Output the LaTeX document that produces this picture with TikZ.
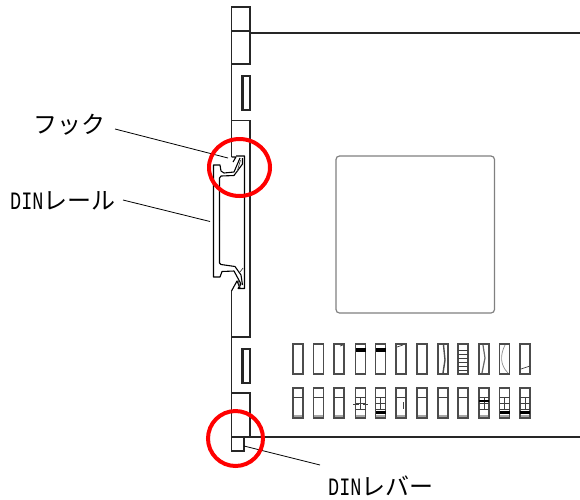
\documentclass[tikz,border=0pt]{standalone}
\usepackage{fontspec}
\newfontfamily\jpfont{Noto Sans CJK JP}
\newfontfamily\latfont[FakeStretch=0.74]{Liberation Mono}
\newcommand{\lbl}[1]{{\latfont\fontsize{25}{26}\selectfont #1}}
\newcommand{\jp}[1]{{\jpfont\fontsize{24}{26}\selectfont #1}}
\tikzset{
  part/.style={draw=black!85,line width=1.1pt,line join=miter},
  railline/.style={draw=black,line width=1.1pt,line join=round},
  vent/.style={draw=black!70,line width=1.3pt},
  thin detail/.style={draw=black!75,line width=.7pt},
  leader/.style={draw=black,line width=.8pt},
  mark ring/.style={draw=red,line width=4pt},
  lab/.style={inner sep=0pt,anchor=base west,text=black}
}
\begin{document}
\begin{tikzpicture}[x=1pt,y=-1pt]
\useasboundingbox (0,0) rectangle (580,499);
% module body
\draw[part] (231.5,64) -- (250,64) -- (250,7) -- (231.5,7) -- (231.5,157);
\draw[part] (231.5,31) -- (250,31);
\draw[part] (250,33) -- (580,33);
\draw[part] (231.5,120.5) -- (250,120.5) -- (250,337) -- (231.5,337);
\draw[part] (231.5,291) -- (231.5,451) -- (244,451) -- (244,437);
\draw[part] (231.5,393) -- (250,393) -- (250,437);
\draw[part] (231.5,437) -- (580,437);
% side slots
\draw[part] (242,76) rectangle (250,110);
\draw[part,line width=2pt] (242.5,76) -- (242.5,110);
\draw[part] (242,349) rectangle (250,383);
\draw[part,line width=2pt] (242.5,349) -- (242.5,383);
% hooks
\draw[railline] (231.5,157) -- (236,157) -- (233,162);
\draw[railline] (231.5,291) -- (237,281) -- (240,288);
% rail
\draw[railline] (236,156) -- (244.5,156) -- (244.5,288.5) -- (238,288.5) -- (241,284) -- (234,271) -- (222,271.5) -- (220,277) -- (213.5,277) -- (213.5,165) -- (220,165) -- (221,171) -- (224,173) -- (234,172) -- (240,158);
\draw[railline] (219.5,220) -- (219.5,178) -- (221,176) -- (234,175.5) -- (242.5,164) -- (242.5,158);
\draw[railline] (219.5,220) -- (219.5,263) -- (221,264.5) -- (235,266.5) -- (241,275) -- (242.5,285);
\draw[thin detail] (240.5,160) -- (237,172);
\draw[thin detail] (240,272) -- (243,268);
\draw[thin detail] (238,280) -- (240,287);
% panel window
\draw[draw=black!50,line width=1.2pt,rounded corners=3.5pt] (336,156) rectangle (494.5,313);
% vents
\foreach \x in {293,313.5,334,355.5,375.5,396,417,438,458,479,499.5,520}{
  \draw[vent] (\x,344) rectangle ++(10,30);
  \draw[vent] (\x,388) rectangle ++(10,30);
  \draw[thin detail] (\x,397) -- ++(10,0);
  \fill[black!35] (\x+.7,415) rectangle ++(8.6,2.4);
}
% top row details
\fill[black] (356,348) rectangle (365.5,352);
\fill[black] (376,348) rectangle (385.5,352);
\draw[thin detail] (397,347) -- (403,345);
\draw[thin detail] (340,346) -- (343,345);
\draw[draw=black!70,line width=1.4pt] (443.5,345) -- (445,360) -- (443,373);
\foreach \y in {350,354,358,362,366,370} \draw[thin detail] (458,\y) -- (468,\y);
\draw[draw=black!60,line width=1.2pt] (483,345) -- (485,358) -- (482,373);
\draw[draw=black!45,line width=.7pt] (505,345) .. controls (500,355) and (500,365) .. (508,373);
\draw[thin detail] (521,369) -- (530,366);
% bottom row details
\foreach \x in {355.5,375.5,479,499.5,520}{
  \draw[thin detail] (\x,403) -- ++(10,0);
  \draw[thin detail] (\x,409) -- ++(10,0);
  \draw[thin detail] (\x+5,397) -- ++(0,12);
}
\draw[thin detail] (353,404) -- (359,404);
\draw[thin detail] (363,404) -- (368,404);
\draw[thin detail] (403,402) -- (403,409);
\fill[black] (375.5,411) rectangle (385.5,414);
\fill[black] (499.5,411) rectangle (509.5,414);
\fill[black] (520,411) rectangle (530,414);
\fill[black] (479,400) rectangle (489,402);
% labels
\node[lab] (hook) at (33,133) {\jp{フック}};
\node[lab] (rail) at (10,209) {\lbl{DIN}\jp{レール}};
\node[lab] (lever) at (328,495) {\lbl{DIN}\jp{レバー}};
% leaders
\coordinate (hookend) at (228,158);
\coordinate (railend) at (210,221.5);
\coordinate (leverend) at (244,446);
\coordinate (hookstart) at (115,129);
\coordinate (railstart) at (123,200);
\coordinate (leverstart) at (320,465);
\draw[leader] (hookstart) -- (hookend);
\draw[leader] (railstart) -- (railend);
\draw[leader] (leverstart) -- (leverend);
% rings
\draw[mark ring] (239.5,167.5) ellipse [x radius=30.5,y radius=28.5];
\draw[mark ring] (235.5,438.5) ellipse [x radius=27.5,y radius=27.5];
\end{tikzpicture}
\end{document}
